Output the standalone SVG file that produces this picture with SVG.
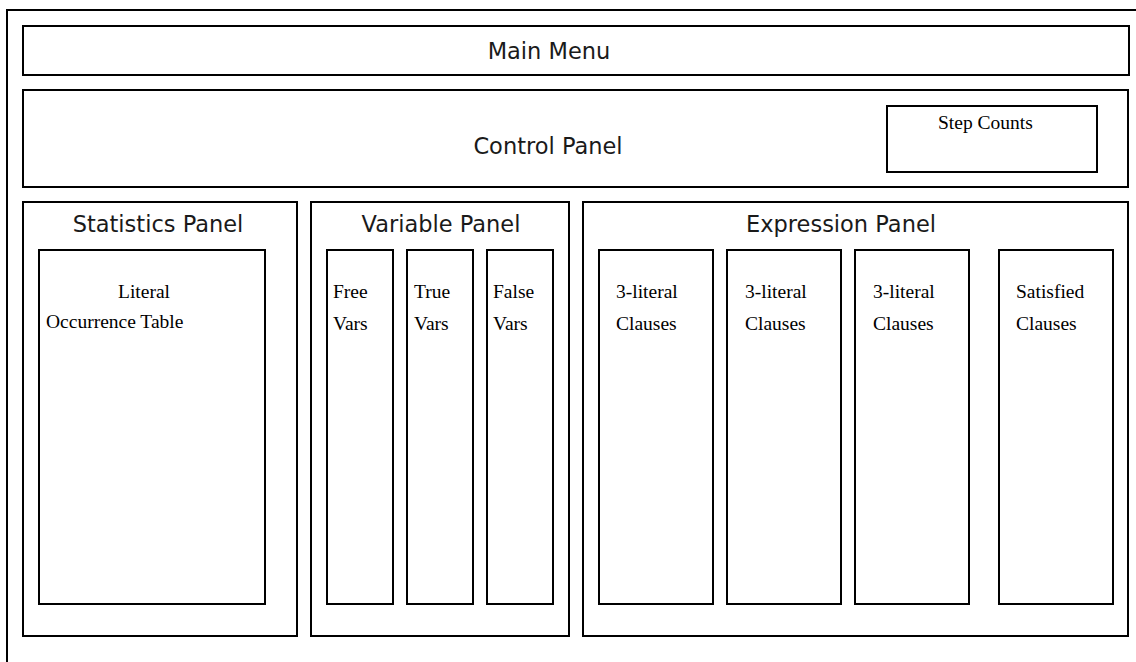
<svg xmlns="http://www.w3.org/2000/svg" width="1136" height="662" viewBox="0 0 1136 662">
<style>
rect{fill:#fff;stroke:#000;stroke-width:2}
.t{font-family:"DejaVu Sans",sans-serif;font-size:22.5px;fill:#1a1a1a;text-anchor:middle}
.s{font-family:"Liberation Serif",serif;font-size:19.5px;fill:#000}
</style>
<rect x="7" y="10" width="1200" height="700"/>
<g id="main-menu"><rect x="23" y="26" width="1106" height="49"/><text class="t" x="549" y="59">Main Menu</text></g>
<g id="control-panel"><rect x="23" y="90" width="1105" height="97"/><text class="t" x="548" y="154">Control Panel</text></g>
<g id="step-counts"><rect x="887" y="106" width="210" height="66"/><text class="s" x="938" y="129">Step Counts</text></g>
<g id="statistics-panel"><rect x="23" y="202" width="274" height="434"/><text class="t" x="158" y="232">Statistics Panel</text></g>
<g id="literal-table"><rect x="39" y="250" width="226" height="354"/><text class="s" x="118" y="298">Literal</text><text class="s" x="46" y="328">Occurrence Table</text></g>
<g id="variable-panel"><rect x="311" y="202" width="258" height="434"/><text class="t" x="441" y="232">Variable Panel</text></g>
<g id="free-vars"><rect x="327" y="250" width="66" height="354"/><text class="s" x="333" y="298">Free</text><text class="s" x="333" y="330">Vars</text></g>
<g id="true-vars"><rect x="407" y="250" width="66" height="354"/><text class="s" x="414" y="298">True</text><text class="s" x="414" y="330">Vars</text></g>
<g id="false-vars"><rect x="487" y="250" width="66" height="354"/><text class="s" x="493" y="298">False</text><text class="s" x="493" y="330">Vars</text></g>
<g id="expression-panel"><rect x="583" y="202" width="545" height="434"/><text class="t" x="841" y="232">Expression Panel</text></g>
<g id="clauses-1"><rect x="599" y="250" width="114" height="354"/><text class="s" x="616" y="298">3-literal</text><text class="s" x="616" y="330">Clauses</text></g>
<g id="clauses-2"><rect x="727" y="250" width="114" height="354"/><text class="s" x="745" y="298">3-literal</text><text class="s" x="745" y="330">Clauses</text></g>
<g id="clauses-3"><rect x="855" y="250" width="114" height="354"/><text class="s" x="873" y="298">3-literal</text><text class="s" x="873" y="330">Clauses</text></g>
<g id="satisfied-clauses"><rect x="999" y="250" width="114" height="354"/><text class="s" x="1016" y="298">Satisfied</text><text class="s" x="1016" y="330">Clauses</text></g>
<g id="connectors"/>
</svg>
